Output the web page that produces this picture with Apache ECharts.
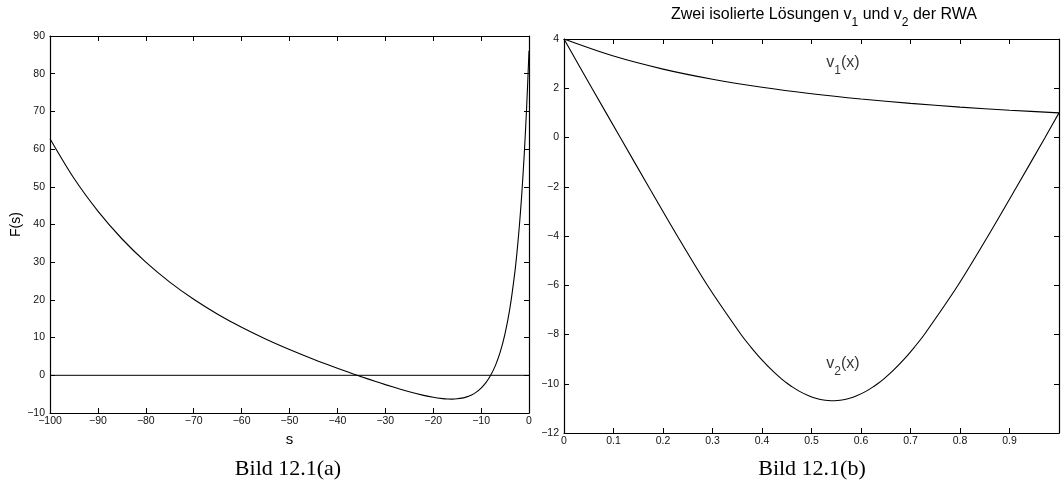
<!DOCTYPE html>
<html>
<head>
<meta charset="utf-8">
<script src="https://cdn.jsdelivr.net/npm/echarts@6/dist/echarts.min.js"></script>
<style>
html,body{margin:0;padding:0;background:#fff;}
#c{width:1062px;height:491px;}
</style>
</head>
<body>
<div id="c"></div>
<script>
// ---- data: left panel F(s) ----
var sVals = [-100,-95,-90,-85,-80,-75,-70,-65,-60,-55,-50,-45,-40,-35.86,-35,-32,-30,-27,-25,-22,-20,-18,-17,-16,-15,-14,-13,-12,-11,-10,-9,-8,-7,-6,-5,-4,-3,-2.5,-2,-1.5,-1,-0.5,0];
var FVals = [62.75,52.25,43.55,36.22,30.02,24.73,20.17,16.21,12.72,9.62,6.82,4.24,1.86,0,-0.37,-1.65,-2.47,-3.64,-4.36,-5.32,-5.84,-6.19,-6.29,-6.31,-6.23,-6.05,-5.72,-5.20,-4.45,-3.40,-1.96,0,2.64,6.21,11.06,17.68,26.85,32.75,39.8,48.23,58.5,70.85,86.1];
var zeroLineS = [-100, 0];
var zeroLineF = [0, 0];

// ---- data: right panel v1, v2 ----
var v1X = [0,0.1,0.2,0.3,0.4,0.5,0.6,0.7,0.8,0.9,1];
var v1Y = [4,3.306,2.778,2.367,2.041,1.778,1.5625,1.384,1.235,1.108,1];
var v2X = [0,0.0565,0.1137,0.171,0.229,0.2896,0.3576,0.3771,0.3984,0.4226,0.4394,0.452,0.459,0.4749,0.4955,0.5102,0.521,0.5428,0.5646,0.5754,0.5901,0.6107,0.6266,0.6336,0.6462,0.663,0.6872,0.7085,0.728,0.796,0.8566,0.9146,0.9719,1];
var v2Y = [4,2,0,-2,-4,-6,-8,-8.5,-9,-9.5,-9.8,-10,-10.1,-10.3,-10.5,-10.6,-10.65,-10.69,-10.65,-10.6,-10.5,-10.3,-10.1,-10,-9.8,-9.5,-9,-8.5,-8,-6,-4,-2,0,1];
var v1LabelPos = [0.53, 2.72];
var v2LabelPos = [0.53, -9.5];

function pairs(xs, ys){ return xs.map(function(x,i){ return [x, ys[i]]; }); }
function minus(v){
  var r = Math.round(v*10)/10;
  return r < 0 ? '\u2212' + Math.abs(r) : String(r);
}

var FONT = 'Liberation Sans';
var tickStyle = {inside:true, length:5, lineStyle:{color:'#000', width:1}};
var lineStyleAx = {color:'#000', width:1.2};
var lbl = {color:'#111', fontSize:10.5, fontFamily:FONT};
var richLbl = {
  m:{fontFamily:FONT, fontSize:16, color:'#000', lineHeight:16, verticalAlign:'top'},
  s:{fontFamily:FONT, fontSize:12, color:'#000', lineHeight:32, verticalAlign:'middle'}
};

var chart = echarts.init(document.getElementById('c'), null, {renderer:'canvas'});
chart.setOption({
  animation:false,
  backgroundColor:'#fff',
  title:[
    {text:'Bild 12.1(a)', left:283, top:453, textAlign:'center',
     textStyle:{fontFamily:'Liberation Serif', fontWeight:'normal', fontSize:22, color:'#000'}},
    {text:'Bild 12.1(b)', left:807, top:453, textAlign:'center',
     textStyle:{fontFamily:'Liberation Serif', fontWeight:'normal', fontSize:22, color:'#000'}},
    {text:'{m|Zwei isolierte L\u00f6sungen v}{s|1}{m| und v}{s|2}{m| der RWA}', left:819, top:2, textAlign:'center',
     textStyle:{fontWeight:'normal', rich:{
       m:{fontFamily:FONT, fontSize:16, fontWeight:'normal', color:'#000', lineHeight:16, verticalAlign:'top'},
       s:{fontFamily:FONT, fontSize:12, fontWeight:'normal', color:'#000', lineHeight:32, verticalAlign:'middle'}
     }}}
  ],
  grid:[
    {left:50, top:36, width:479, height:377},
    {left:564, top:39, width:500, height:394}
  ],
  xAxis:[
    {type:'value', gridIndex:0, min:-100, max:0, interval:10, position:'bottom',
     axisLine:{onZero:false, lineStyle:lineStyleAx}, axisTick:tickStyle, splitLine:{show:false},
     axisLabel:Object.assign({margin:3, formatter:minus, showMinLabel:true, showMaxLabel:true}, lbl),
     name:'s', nameLocation:'middle', nameGap:17,
     nameTextStyle:{fontFamily:FONT, fontSize:15, color:'#000'}},
    {type:'value', gridIndex:0, min:-100, max:0, interval:10, position:'top',
     axisLine:{onZero:false, lineStyle:lineStyleAx}, axisTick:tickStyle, splitLine:{show:false},
     axisLabel:{show:false}},
    {type:'value', gridIndex:1, min:0, max:1, interval:0.1, position:'bottom',
     axisLine:{onZero:false, lineStyle:lineStyleAx}, axisTick:tickStyle, splitLine:{show:false},
     axisLabel:Object.assign({margin:3, formatter:function(v){ return v>=0.999 ? '' : minus(v); }}, lbl)},
    {type:'value', gridIndex:1, min:0, max:1, interval:0.1, position:'top',
     axisLine:{onZero:false, lineStyle:lineStyleAx}, axisTick:tickStyle, splitLine:{show:false},
     axisLabel:{show:false}}
  ],
  yAxis:[
    {type:'value', gridIndex:0, min:-10, max:90, interval:10, position:'left',
     axisLine:{onZero:false, lineStyle:lineStyleAx}, axisTick:tickStyle, splitLine:{show:false},
     axisLabel:Object.assign({margin:5, formatter:minus}, lbl),
     name:'F(s)', nameLocation:'middle', nameGap:25, nameRotate:90,
     nameTextStyle:{fontFamily:FONT, fontSize:14, color:'#000'}},
    {type:'value', gridIndex:0, min:-10, max:90, interval:10, position:'right',
     axisLine:{onZero:false, lineStyle:lineStyleAx}, axisTick:tickStyle, splitLine:{show:false},
     axisLabel:{show:false}},
    {type:'value', gridIndex:1, min:-12, max:4, interval:2, position:'left',
     axisLine:{onZero:false, lineStyle:lineStyleAx}, axisTick:tickStyle, splitLine:{show:false},
     axisLabel:Object.assign({margin:5, formatter:minus}, lbl)},
    {type:'value', gridIndex:1, min:-12, max:4, interval:2, position:'right',
     axisLine:{onZero:false, lineStyle:lineStyleAx}, axisTick:tickStyle, splitLine:{show:false},
     axisLabel:{show:false}}
  ],
  series:[
    {type:'line', xAxisIndex:0, yAxisIndex:0, data:pairs(sVals, FVals), showSymbol:false,
     smooth:0.3, lineStyle:{color:'#000', width:1.1}, silent:true, clip:true},
    {type:'line', xAxisIndex:0, yAxisIndex:0, data:pairs(zeroLineS, zeroLineF), showSymbol:false,
     lineStyle:{color:'#000', width:1}, silent:true},
    {type:'line', xAxisIndex:2, yAxisIndex:2, data:pairs(v1X, v1Y), showSymbol:false,
     smooth:0.3, lineStyle:{color:'#000', width:1.1}, silent:true},
    {type:'line', xAxisIndex:2, yAxisIndex:2, data:pairs(v2X, v2Y), showSymbol:false,
     smooth:0.3, lineStyle:{color:'#000', width:1.1}, silent:true},
    {type:'scatter', xAxisIndex:2, yAxisIndex:2, symbolSize:0, silent:true,
     data:[v1LabelPos],
     label:{show:true, position:'inside', align:'left', color:'#000',
       formatter:'{m|v}{s|1}{m|(x)}', rich:richLbl}},
    {type:'scatter', xAxisIndex:2, yAxisIndex:2, symbolSize:0, silent:true,
     data:[v2LabelPos],
     label:{show:true, position:'inside', align:'left', color:'#000',
       formatter:'{m|v}{s|2}{m|(x)}', rich:richLbl}}
  ]
});
</script>
</body>
</html>
